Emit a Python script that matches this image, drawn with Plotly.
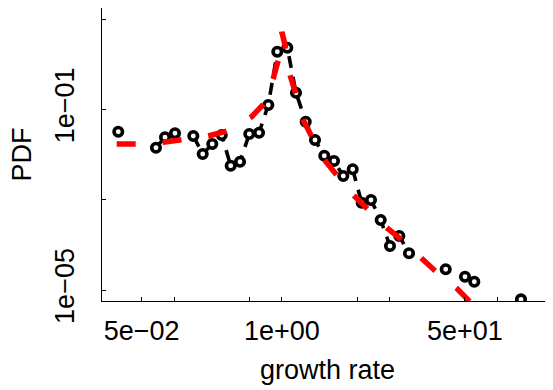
import plotly.graph_objects as go

# observed binned PDF (None = empty bin, line breaks there)
growth = [0.0303, 0.0361, 0.0432, 0.0518, 0.0678, 0.0823, 0.1018, 0.124, 0.1506, 0.1841,
          0.2259, 0.2763, 0.3348, 0.4085, 0.4981, 0.6131, 0.7478, 0.9065, 1.1223, 1.3519,
          1.6633, 2.0286, 2.4743, 3.0442, 3.714, 4.540, 5.504, 6.713, 8.258, 10.07,
          12.29, 15.12, 18.4, 22.5, 27.3, 33.13, 40.7, 50.04, 61.04, 74.5, 91.0, 111.0, 136.0, 165.6]
pdf = [0.0320, None, None, None, 0.01416, 0.02404, 0.02951, None, 0.02570, 0.01025,
       0.01710, 0.02704, 0.005649, 0.006934, 0.02844, 0.03040, 0.1247, 1.888, 2.317, 0.2334,
       0.05321, 0.02094, 0.009415, 0.007181, 0.003343, 0.004710, 0.000857, 0.000984, 0.000355, 9.44e-5,
       1.57e-4, 6.50e-5, None, None, None, 2.88e-5, None, 1.97e-5, 1.53e-5, None, None, None, None, 6.22e-6]

# fitted curve (red)
fit_x = [0.0293, 0.04491, 0.07929, 0.1175, 0.2074, 0.3073, 0.5245, 0.6720, 0.8322, 0.9259,
         1.0, 1.0685, 1.1890, 1.3722, 1.5797, 1.8902, 2.4592, 3.2254, 4.598, 6.124,
         9.389, 12.94, 19.83, 26.36, 41.92, 55.70, 85.36]
fit_y = [0.01709, 0.01709, 0.01864, 0.02096, 0.02570, 0.03315, 0.06871, 0.1293, 0.4866, 1.237,
         5.155, 2.657, 0.5757, 0.1905, 0.05808, 0.02480, 0.007834, 0.003519, 0.001269, 0.000644,
         0.0002396, 0.0001280, 5.04e-5, 2.68e-5, 1.091e-5, 5.51e-6, 1.96e-6]

x_tickvals = [0.05, 0.1, 0.5, 1, 5, 10, 50, 100]
x_ticktext = ["5e\u221202", "", "", "1e+00", "", "", "5e+01", ""]
y_tickvals = [10, 0.1, 0.001, 0.00001]
y_ticktext = ["", "1e\u221201", "", "1e\u221205"]

FONT = "Liberation Sans, Arial, Helvetica, sans-serif"
FS = 27

fig = go.Figure()
fig.add_trace(go.Scatter(
    x=growth, y=pdf, mode="lines+markers", connectgaps=False,
    line=dict(color="black", width=3.6, dash="12px,9px"),
    marker=dict(symbol="circle", size=8.5, color="white",
                line=dict(color="black", width=3.6)),
    showlegend=False, hoverinfo="skip"))
fig.add_trace(go.Scatter(
    x=fit_x, y=fit_y, mode="lines",
    line=dict(color="#ff0000", width=5.5, dash="19px,27px"),
    showlegend=False, hoverinfo="skip"))

# page body has an 8px margin: figure is placed at (8, 8) in the window
fig.update_layout(
    width=545, height=382,
    margin=dict(l=94, r=0, t=0, b=89, pad=0),
    paper_bgcolor="white", plot_bgcolor="white",
    font=dict(family=FONT, size=FS, color="black"),
    xaxis=dict(type="log", range=[-1.6696, 2.516], showgrid=False, zeroline=False,
               showline=True, linecolor="black", linewidth=1.3,
               ticks="inside", ticklen=4, tickwidth=1, tickcolor="black",
               tickvals=x_tickvals, ticktext=x_ticktext,
               tickfont=dict(family=FONT, size=FS), ticklabelstandoff=5,
               automargin=False),
    yaxis=dict(type="log", range=[-5.243, 1.2435], showgrid=False, zeroline=False,
               showline=True, linecolor="black", linewidth=1.3,
               ticks="inside", ticklen=4, tickwidth=1, tickcolor="black",
               tickvals=y_tickvals, ticktext=y_ticktext, tickangle=-90,
               tickfont=dict(family=FONT, size=FS), ticklabelstandoff=16,
               automargin=False),
    annotations=[
        dict(text="growth rate", xref="paper", yref="paper", x=0.501, y=-0.2355,
             xanchor="center", yanchor="middle", showarrow=False,
             font=dict(family=FONT, size=FS)),
        dict(text="PDF", xref="paper", yref="paper", x=-0.1774, y=0.5,
             xanchor="center", yanchor="middle", textangle=-90, showarrow=False,
             font=dict(family=FONT, size=FS)),
    ],
)

fig.write_html("out.html")
